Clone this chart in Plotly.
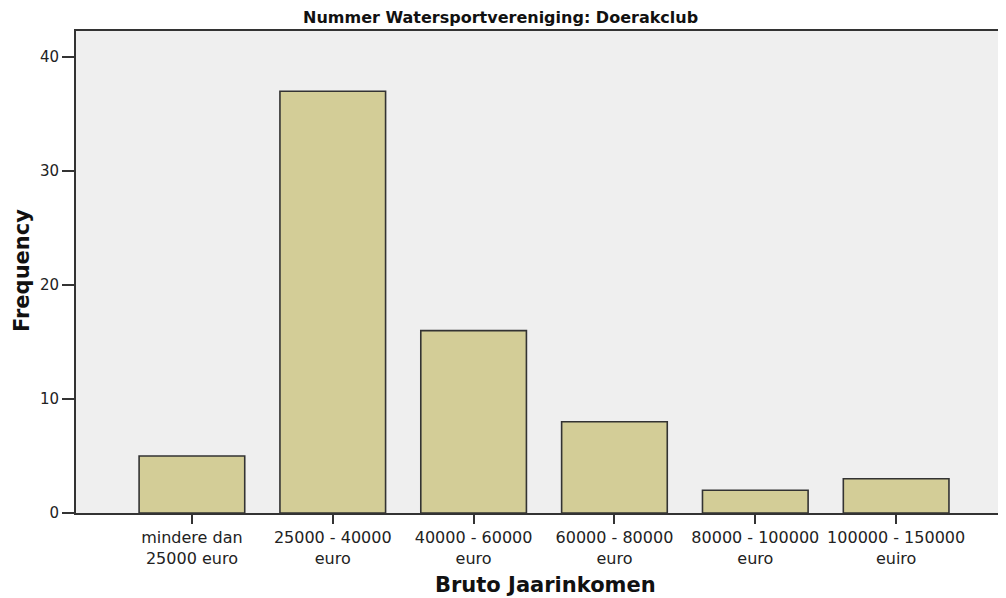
import plotly.graph_objects as go

categories = ["mindere dan<br>25000 euro", "25000 - 40000<br>euro", "40000 - 60000<br>euro",
              "60000 - 80000<br>euro", "80000 - 100000<br>euro", "100000 - 150000<br>euiro"]
frequencies = [5, 37, 16, 8, 2, 3]
y_ticks = [0, 10, 20, 30, 40]

# page body has an 8px margin; compensate so the figure fills the 1006x598 window
OFF = 8
W, H = 1006 - OFF, 598 - OFF
L, T = 76 - OFF, 31 - OFF
B = H - (513 - OFF)
pw, ph = W - L, H - T - B


def px(x):
    return (x - 76) / pw


def py(y):
    return (513 - y) / ph


fig = go.Figure()
fig.add_trace(go.Bar(
    x=list(range(len(categories))), y=frequencies, width=0.75,
    marker=dict(color="#d3cd97", line=dict(color="#333333", width=1.6)),
))

fig.update_layout(
    width=W, height=H,
    margin=dict(l=L, r=0, t=T, b=B),
    paper_bgcolor="white", plot_bgcolor="#efefef",
    showlegend=False,
    font=dict(family="DejaVu Sans, sans-serif", color="#222222"),
    xaxis=dict(
        range=[-0.823, 5.78], tickmode="array", tickvals=list(range(len(categories))),
        ticktext=categories, ticks="outside", ticklen=9, tickwidth=2, tickcolor="#333333",
        showline=True, linecolor="#333333", linewidth=2, mirror=True,
        showgrid=False, zeroline=False, automargin=False,
        tickfont=dict(size=16, color="#222222"),
    ),
    yaxis=dict(
        range=[0, 42.28], tickmode="array", tickvals=y_ticks,
        ticks="outside", ticklen=12, tickwidth=2, tickcolor="#333333",
        showline=True, linecolor="#333333", linewidth=2,
        showgrid=False, zeroline=False, automargin=False,
        tickfont=dict(size=15, color="#222222"),
    ),
    annotations=[
        dict(text="<b>Nummer Watersportvereniging: Doerakclub</b>", xref="paper", yref="paper",
             x=px(500), y=py(17), showarrow=False, xanchor="center", yanchor="middle",
             font=dict(size=16, color="#111111")),
        dict(text="<b>Bruto Jaarinkomen</b>", xref="paper", yref="paper",
             x=px(545), y=py(585), showarrow=False, xanchor="center", yanchor="middle",
             font=dict(size=21, color="#111111")),
        dict(text="<b>Frequency</b>", xref="paper", yref="paper", textangle=-90,
             x=px(22), y=py(271), showarrow=False, xanchor="center", yanchor="middle",
             font=dict(size=21, color="#111111")),
    ],
)

fig.write_html("out.html")
